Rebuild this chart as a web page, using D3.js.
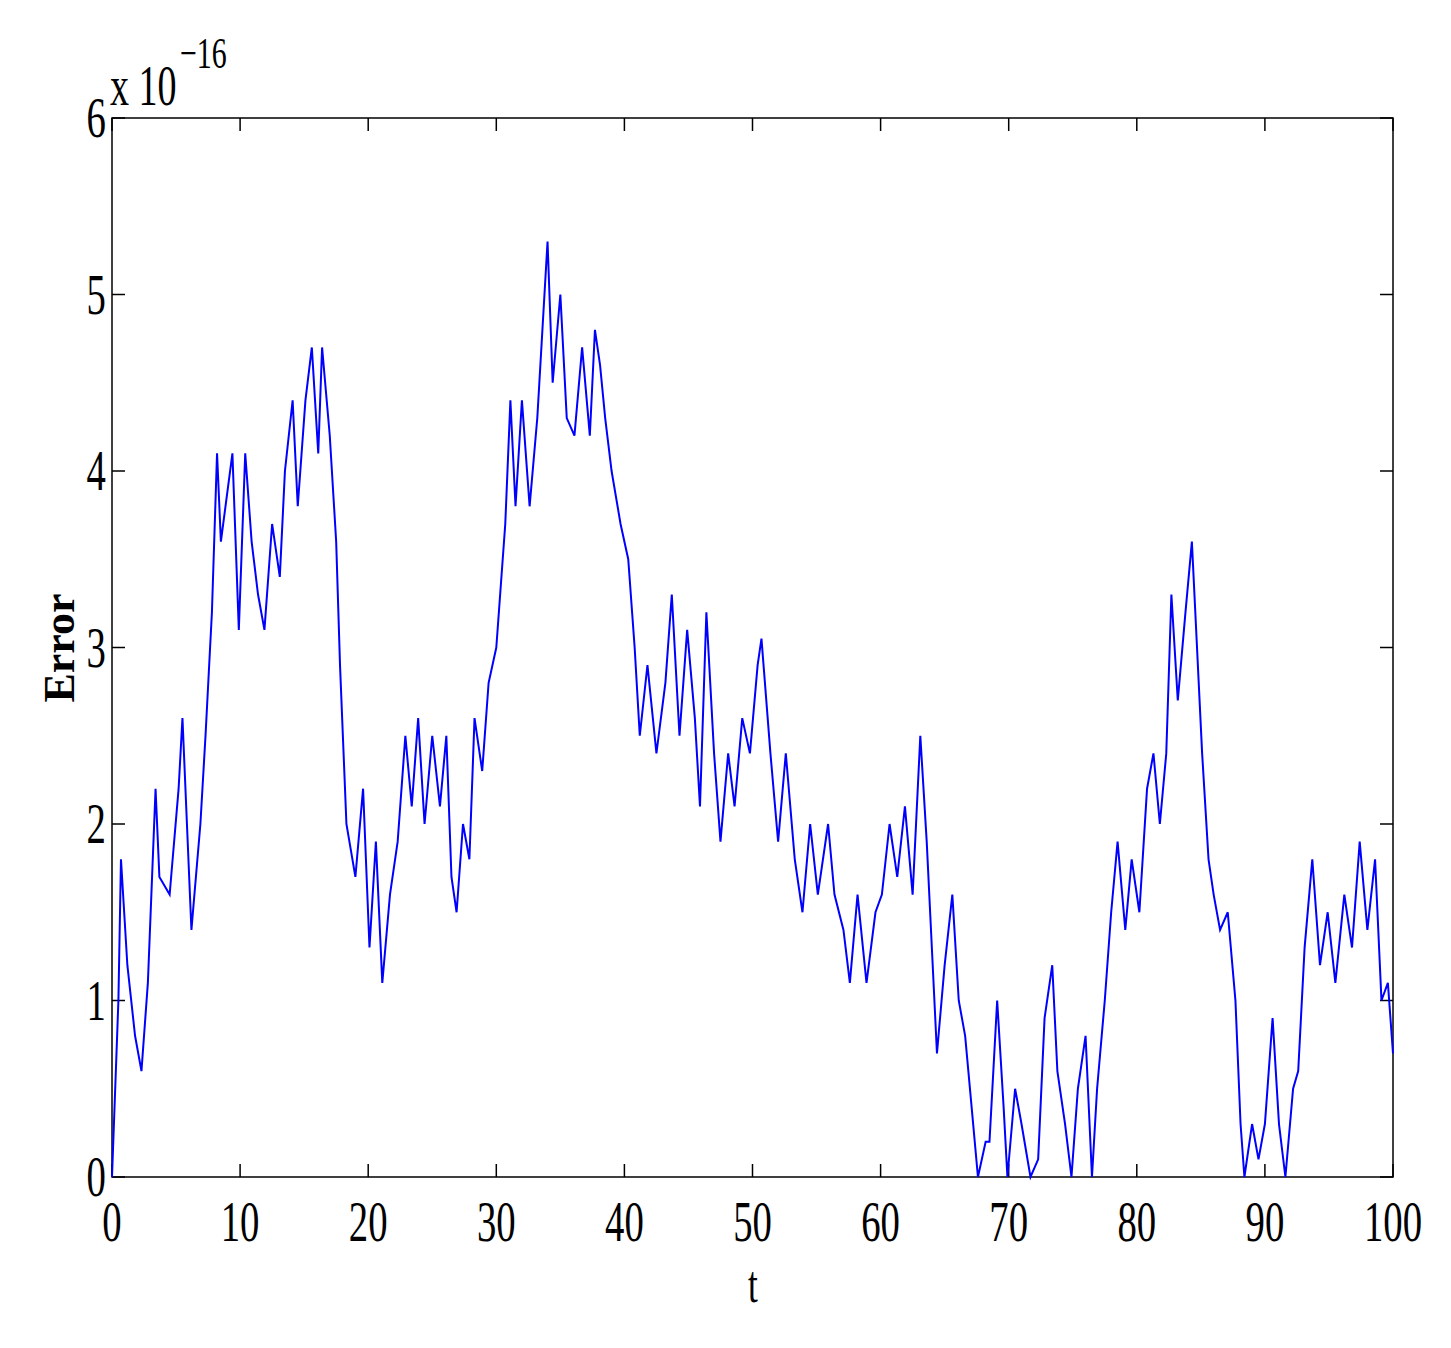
<!DOCTYPE html><html><head><meta charset="utf-8"><script src="https://d3js.org/d3.v7.min.js"></script>
<style>body{margin:0;background:#fff}</style></head><body><script>
const tVals=[0,0.5,0.7,1.2,1.8,2.3,2.8,3.4,3.7,4.5,5.2,5.5,6.2,6.9,7.3,7.8,8.2,8.5,9.4,9.9,10.4,10.9,11.4,11.9,12.5,13.1,13.5,14.1,14.5,15.1,15.6,16.1,16.4,17,17.5,17.8,18.3,19,19.6,20.1,20.6,21.1,21.7,22.3,22.9,23.4,23.9,24.4,25,25.6,26.1,26.5,26.9,27.4,27.9,28.3,28.9,29.4,30,30.7,31.1,31.5,32,32.6,33.2,33.6,34,34.4,35,35.5,36.1,36.7,37.3,37.7,38.1,38.5,39,39.7,40.3,40.8,41.2,41.8,42.5,43.2,43.7,44.3,44.9,45.5,45.9,46.4,47,47.5,48.1,48.6,49.2,49.8,50.4,50.7,51.4,52,52.6,53.3,53.9,54.5,55.1,55.9,56.4,57.1,57.6,58.2,58.9,59.6,60.1,60.7,61.3,61.9,62.5,63.1,63.6,64,64.4,65,65.6,66.1,66.6,67.1,67.6,68.2,68.5,69.1,69.6,69.9,70.5,71,71.7,72.3,72.8,73.4,73.8,74.4,74.9,75.4,76,76.5,76.9,77.5,78,78.5,79.1,79.6,80.2,80.8,81.3,81.8,82.3,82.7,83.2,83.8,84.3,84.7,85.1,85.6,86,86.5,87.1,87.7,88.1,88.4,89,89.5,90,90.6,91.1,91.6,92.2,92.6,93.1,93.7,94.3,94.9,95.5,96.2,96.8,97.4,98,98.6,99.1,99.6,100];
const errVals=[0,1.0,1.8,1.2,0.8,0.6,1.1,2.2,1.7,1.6,2.2,2.6,1.4,2.0,2.5,3.2,4.1,3.6,4.1,3.1,4.1,3.6,3.3,3.1,3.7,3.4,4.0,4.4,3.8,4.4,4.7,4.1,4.7,4.2,3.6,2.9,2.0,1.7,2.2,1.3,1.9,1.1,1.6,1.9,2.5,2.1,2.6,2.0,2.5,2.1,2.5,1.7,1.5,2.0,1.8,2.6,2.3,2.8,3.0,3.7,4.4,3.8,4.4,3.8,4.3,4.8,5.3,4.5,5.0,4.3,4.2,4.7,4.2,4.8,4.6,4.3,4.0,3.7,3.5,3.0,2.5,2.9,2.4,2.8,3.3,2.5,3.1,2.6,2.1,3.2,2.4,1.9,2.4,2.1,2.6,2.4,2.9,3.05,2.4,1.9,2.4,1.8,1.5,2.0,1.6,2.0,1.6,1.4,1.1,1.6,1.1,1.5,1.6,2.0,1.7,2.1,1.6,2.5,1.9,1.3,0.7,1.2,1.6,1.0,0.8,0.4,0,0.2,0.2,1.0,0.4,0,0.5,0.3,0,0.1,0.9,1.2,0.6,0.3,0,0.5,0.8,0,0.5,1.0,1.5,1.9,1.4,1.8,1.5,2.2,2.4,2.0,2.4,3.3,2.7,3.2,3.6,3.0,2.4,1.8,1.6,1.4,1.5,1.0,0.3,0,0.3,0.1,0.3,0.9,0.3,0,0.5,0.6,1.3,1.8,1.2,1.5,1.1,1.6,1.3,1.9,1.4,1.8,1.0,1.1,0.7];
const xTicks=[0,10,20,30,40,50,60,70,80,90,100];
const yTicks=[0,1,2,3,4,5,6];
const W=1451,H=1348,L=112,R=1393,T=118,B=1177;
const svg=d3.select("body").append("svg").attr("width",W).attr("height",H);
const x=d3.scaleLinear().domain([0,100]).range([L,R]);
const y=d3.scaleLinear().domain([0,6]).range([B,T]);
const font="Liberation Serif, Times New Roman, serif";
function txt(px,py,s,size,anchor){
  const g=svg.append("g").attr("transform",`translate(${px},${py}) scale(0.68,1)`);
  return g.append("text").attr("font-family",font).attr("font-size",size).attr("text-anchor",anchor).text(s);}
svg.append("rect").attr("x",L).attr("y",T).attr("width",R-L).attr("height",B-T).attr("fill","none").attr("stroke","#000").attr("stroke-width",1.5);
const tl=13;
xTicks.forEach(v=>{
  svg.append("line").attr("x1",x(v)).attr("x2",x(v)).attr("y1",B).attr("y2",B-tl).attr("stroke","#000").attr("stroke-width",1.5);
  svg.append("line").attr("x1",x(v)).attr("x2",x(v)).attr("y1",T).attr("y2",T+tl).attr("stroke","#000").attr("stroke-width",1.5);
  txt(x(v),1241,String(v),57,"middle");
});
yTicks.forEach(v=>{
  svg.append("line").attr("x1",L).attr("x2",L+tl).attr("y1",y(v)).attr("y2",y(v)).attr("stroke","#000").attr("stroke-width",1.5);
  svg.append("line").attr("x1",R).attr("x2",R-tl).attr("y1",y(v)).attr("y2",y(v)).attr("stroke","#000").attr("stroke-width",1.5);
  txt(106,y(v)+19,String(v),57,"end");
});
const line=d3.line().x((d,i)=>x(tVals[i])).y(d=>y(d));
svg.append("path").datum(errVals).attr("d",line).attr("fill","none").attr("stroke","#0000ff").attr("stroke-width",2);
txt(753,1302,"t",52,"middle");
svg.append("g").attr("transform","translate(74,648) rotate(-90)").append("text").attr("font-family",font).attr("font-size",44).attr("font-weight","bold").attr("text-anchor","middle").text("Error");
txt(110,105,"x 10",56,"start");
txt(180,68,"−16",44,"start");
</script></body></html>
